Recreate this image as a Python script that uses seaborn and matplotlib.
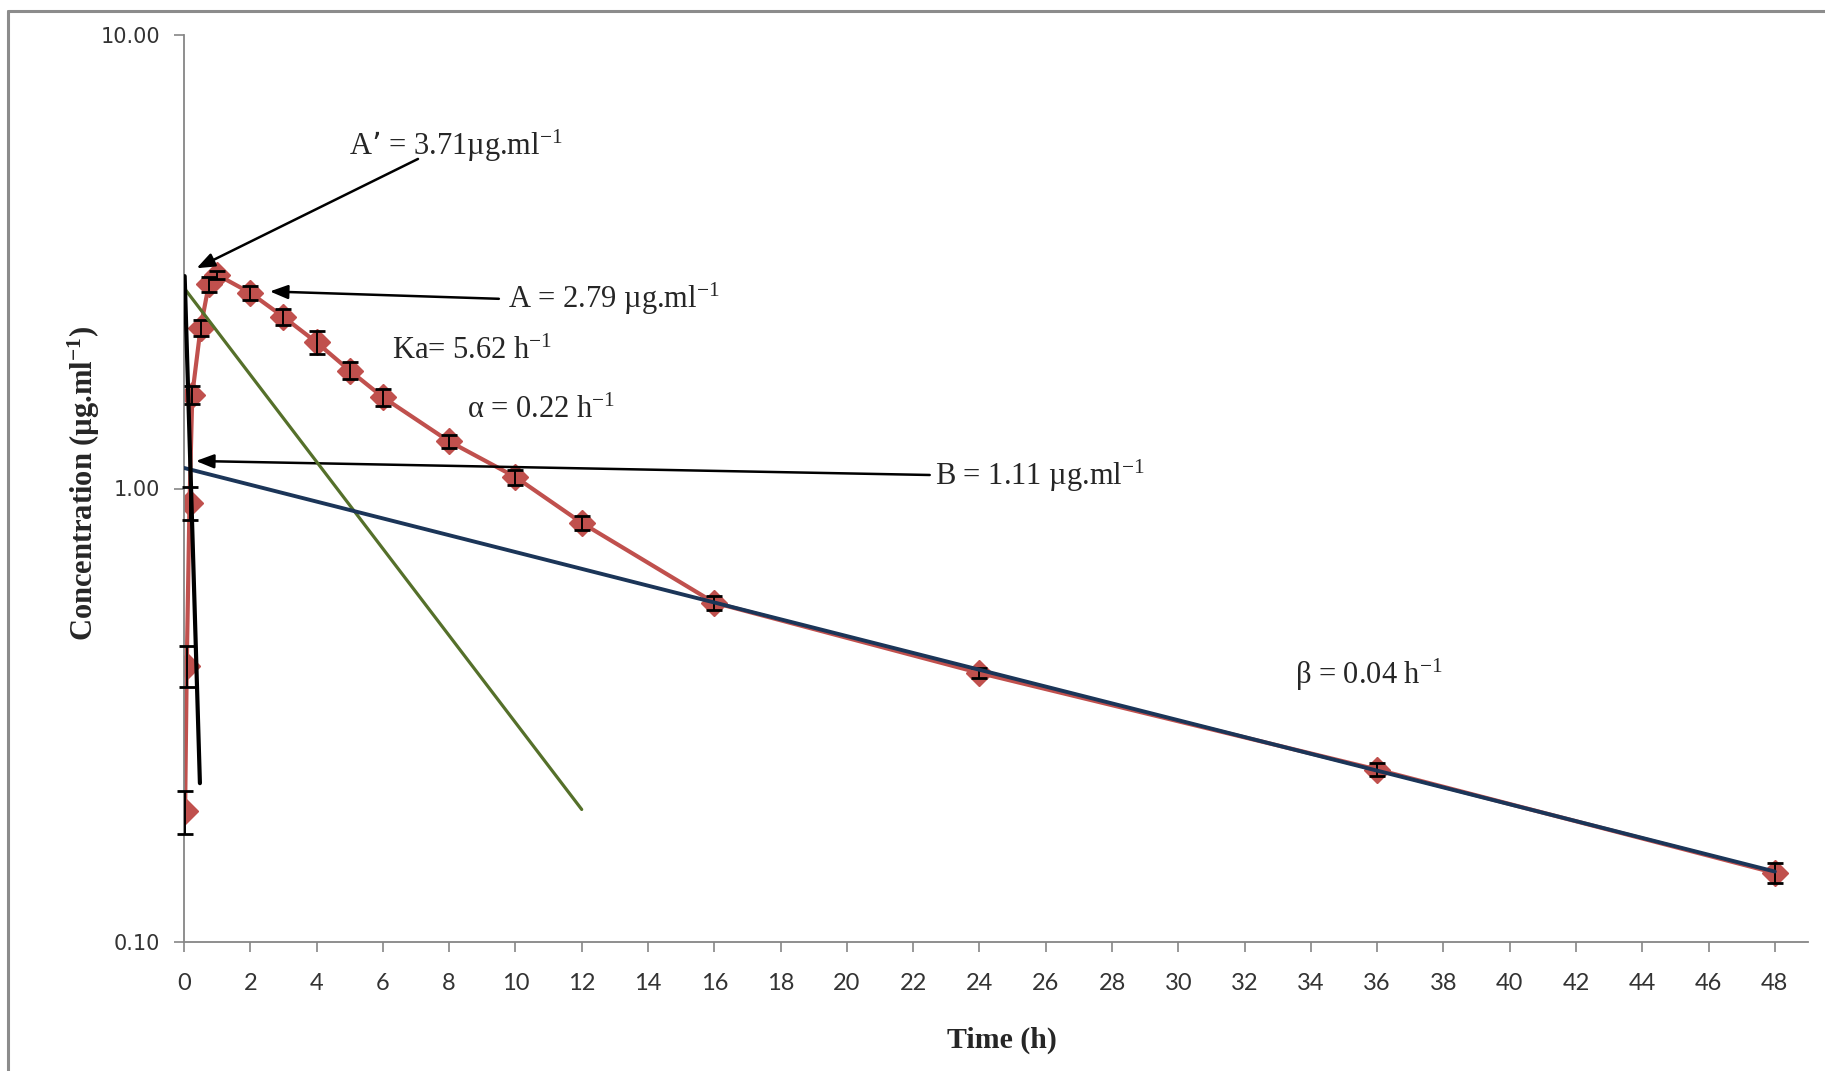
import matplotlib
matplotlib.use("Agg")
import matplotlib.pyplot as plt
import seaborn as sns
from matplotlib.ticker import FixedLocator, FormatStrFormatter, NullLocator
from matplotlib.lines import Line2D

# ------------------------------------------------------------------
# Data
# ------------------------------------------------------------------
time_h = [0.033, 0.083, 0.167, 0.25, 0.5, 0.75, 1, 2, 3, 4, 5, 6, 8, 10, 12, 16, 24, 36, 48]
conc_mean = [0.194, 0.407, 0.93, 1.61, 2.26, 2.82, 2.96, 2.70, 2.39, 2.10, 1.82, 1.59,
             1.27, 1.06, 0.84, 0.56, 0.392, 0.240, 0.142]
conc_sd = [0.021, 0.042, 0.077, 0.075, 0.095, 0.11, 0.06, 0.095, 0.10, 0.12, 0.08, 0.07,
           0.04, 0.04, 0.03, 0.02, 0.01, 0.008, 0.007]

# residual / back-extrapolated phase lines (end points)
ka_time = [0.02, 0.48]
ka_conc = [2.94, 0.224]
alpha_time = [0, 12]
alpha_conc = [2.77, 0.196]
beta_time = [0, 48]
beta_conc = [1.11, 0.143]

x_ticks = list(range(0, 49, 2))
y_ticks = [0.1, 1, 10]

RED = "#C0504D"
GREEN = "#55702A"
NAVY = "#1B3558"
GREY = "#868686"

sns.set_theme(style="white")
plt.rcParams["font.family"] = ["Liberation Serif", "DejaVu Serif"]
plt.rcParams["mathtext.default"] = "regular"

fig = plt.figure(figsize=(18.25, 10.71), dpi=100)
W, H = 1825, 1071
ax = fig.add_axes([184 / W, 1 - 942 / H, (1808 - 184) / W, (942 - 35) / H])

# ------------------------------------------------------------------
# Curves
# ------------------------------------------------------------------
sns.lineplot(x=time_h, y=conc_mean, ax=ax, color=RED, linewidth=3.0, marker="D",
             markersize=13, markeredgecolor=RED, markeredgewidth=1, zorder=2)
eb = ax.errorbar(time_h, conc_mean, yerr=conc_sd, fmt="none", ecolor="black",
                 elinewidth=1.4, capsize=5.5, capthick=2, zorder=3)
for art in eb.lines[1] + eb.lines[2]:
    art.set_clip_on(False)
sns.lineplot(x=alpha_time, y=alpha_conc, ax=ax, color=GREEN, linewidth=2.3, zorder=4)
sns.lineplot(x=beta_time, y=beta_conc, ax=ax, color=NAVY, linewidth=2.8, zorder=4)
sns.lineplot(x=ka_time, y=ka_conc, ax=ax, color="black", linewidth=3.0, zorder=5)

ax.set_yscale("log")
ax.set_xlim(0, 49)
ax.set_ylim(0.1, 10)
ax.xaxis.set_major_locator(FixedLocator(x_ticks))
ax.yaxis.set_major_locator(FixedLocator(y_ticks))
ax.yaxis.set_major_formatter(FormatStrFormatter("%.2f"))
ax.yaxis.set_minor_locator(NullLocator())
ax.grid(False)

for side in ["top", "right"]:
    ax.spines[side].set_visible(False)
for side in ["left", "bottom"]:
    ax.spines[side].set_color(GREY)
    ax.spines[side].set_linewidth(1.3)

ax.tick_params(axis="both", which="major", direction="out", color=GREY, width=1.2,
               length=7, left=True, bottom=True)
ax.tick_params(axis="x", pad=15)
ax.tick_params(axis="y", pad=10)
for lbl in ax.get_xticklabels():
    lbl.set_fontfamily("Lato")
    lbl.set_fontsize(17)
    lbl.set_color("#333333")
for lbl in ax.get_yticklabels():
    lbl.set_fontfamily("DejaVu Sans")
    lbl.set_fontsize(15)
    lbl.set_color("#333333")

ax.set_xlabel("Time (h)", fontsize=21.5, fontweight="bold")
ax.set_ylabel("Concentration (µg.ml$^{-1}$)", fontsize=22, fontweight="bold")
ax.xaxis.set_label_coords(0.5035, -0.093)
ax.yaxis.set_label_coords(-0.0505, 0.505)

# ------------------------------------------------------------------
# Annotations
# ------------------------------------------------------------------
arrow = dict(arrowstyle="-|>,head_length=0.9,head_width=0.35", color="black", lw=1.8,
             shrinkA=0, shrinkB=0)
ax.annotate("", xy=(0.38, 3.06), xytext=(7.06, 5.33), arrowprops=arrow)
ax.annotate("", xy=(2.59, 2.72), xytext=(9.5, 2.62), arrowprops=arrow)
ax.annotate("", xy=(0.36, 1.15), xytext=(22.5, 1.071), arrowprops=arrow)

fs = 22
ax.text(4.98, 5.70, "A’ = 3.71µg.ml$^{-1}$", fontsize=fs, va="center")
ax.text(9.77, 2.62, "A = 2.79 µg.ml$^{-1}$", fontsize=fs, va="center")
ax.text(6.27, 2.01, "Ka= 5.62 h$^{-1}$", fontsize=fs, va="center")
ax.text(8.53, 1.49, "α = 0.22 h$^{-1}$", fontsize=fs, va="center")
ax.text(22.65, 1.065, "B = 1.11 µg.ml$^{-1}$", fontsize=fs, va="center")
ax.text(33.53, 0.388, "β = 0.04 h$^{-1}$", fontsize=fs, va="center")

# chart area border
fig.add_artist(Line2D([8 / W, 1.0], [1 - 11 / H, 1 - 11 / H], transform=fig.transFigure,
                      color="#8C8C8C", lw=2.2))
fig.add_artist(Line2D([8 / W, 8 / W], [0.0, 1 - 11 / H], transform=fig.transFigure,
                      color="#8C8C8C", lw=2.2))

fig.savefig("out.png", dpi=100)
